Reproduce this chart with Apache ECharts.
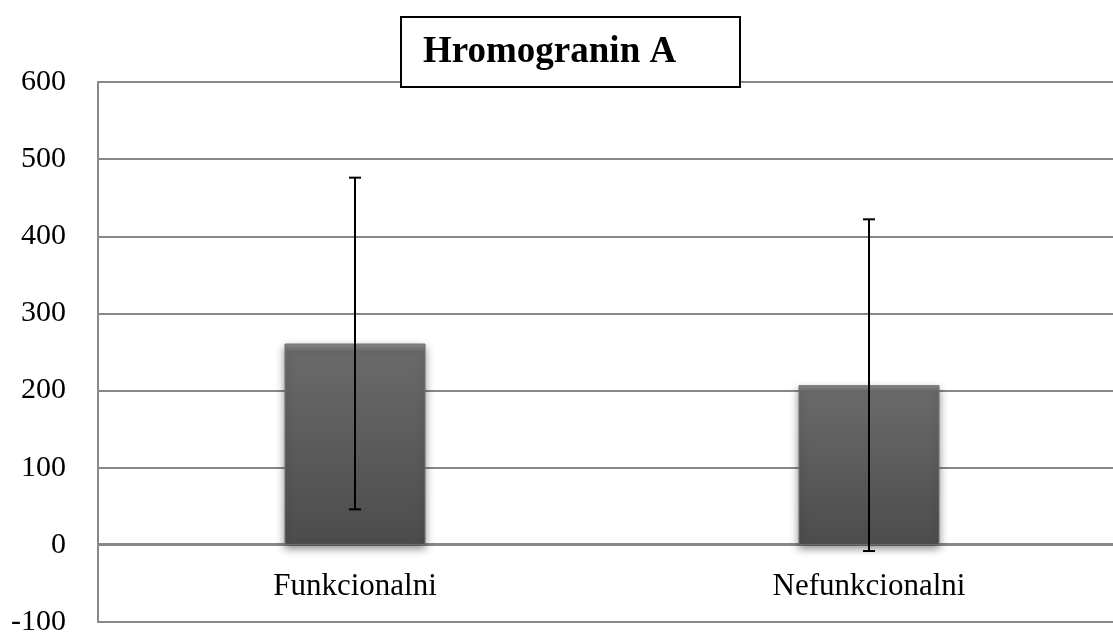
<!DOCTYPE html>
<html>
<head>
<meta charset="utf-8">
<script src="https://cdn.jsdelivr.net/npm/echarts@6/dist/echarts.min.js"></script>
<style>
  html, body { margin: 0; padding: 0; background: #fff; }
  #chart { width: 1113px; height: 635px; }
</style>
</head>
<body>
<div id="chart"></div>
<script>
// podaci
const categories = ['Funkcionalni', 'Nefunkcionalni'];
const means = [261, 207];
const sd = [215, 215];
const titleText = 'Hromogranin A';

const font = '"Liberation Serif", "Times New Roman", serif';

// granice za error bar
const errData = means.map((m, i) => [i, m - sd[i], m + sd[i]]);

const chart = echarts.init(document.getElementById('chart'));

const option = {
  backgroundColor: '#fff',
  animation: false,
  title: {
    text: titleText,
    left: 401,
    top: 17,
    padding: [15, 64, 15, 22],
    borderColor: '#000',
    borderWidth: 2,
    backgroundColor: '#fff',
    textStyle: {
      fontFamily: font,
      fontWeight: 'bold',
      fontSize: 37,
      color: '#000',
      lineHeight: 40
    }
  },
  grid: {
    left: 98,
    top: 82,
    width: 1028,
    height: 540,
    containLabel: false,
    outerBoundsMode: 'none'
  },
  xAxis: {
    type: 'category',
    data: categories,
    // os kategorija stoji na nuli (78 px iznad dna)
    offset: -78,
    axisLine: { onZero: false, lineStyle: { color: '#888', width: 2 } },
    axisTick: { show: false },
    axisLabel: {
      fontFamily: font,
      fontSize: 31,
      color: '#000',
      margin: 27
    }
  },
  yAxis: {
    type: 'value',
    min: -100,
    max: 600,
    interval: 100,
    axisLine: { show: true, lineStyle: { color: '#888', width: 2 } },
    axisTick: { show: false },
    axisLabel: {
      fontFamily: font,
      fontSize: 30,
      color: '#000',
      margin: 32
    },
    splitLine: { lineStyle: { color: '#888', width: 2 } }
  },
  series: [
    {
      type: 'bar',
      data: means,
      barWidth: 141,
      itemStyle: {
        color: new echarts.graphic.LinearGradient(0, 0, 0, 1, [
          { offset: 0, color: '#8e8e8e' },
          { offset: 0.04, color: '#6a6a6a' },
          { offset: 1, color: '#4c4c4c' }
        ]),
        borderColor: '#707070',
        borderWidth: 1,
        shadowColor: 'rgba(0,0,0,0.45)',
        shadowBlur: 8,
        shadowOffsetY: 4
      },
      z: 2
    },
    {
      type: 'custom',
      data: errData,
      z: 5,
      renderItem: function (params, api) {
        const x = api.value(0);
        const lo = api.coord([x, api.value(1)]);
        const hi = api.coord([x, api.value(2)]);
        const half = 6;
        const style = { stroke: '#000', lineWidth: 2 };
        return {
          type: 'group',
          children: [
            { type: 'line', shape: { x1: hi[0], y1: hi[1], x2: lo[0], y2: lo[1] }, style: style },
            { type: 'line', shape: { x1: hi[0] - half, y1: hi[1], x2: hi[0] + half, y2: hi[1] }, style: style },
            { type: 'line', shape: { x1: lo[0] - half, y1: lo[1], x2: lo[0] + half, y2: lo[1] }, style: style }
          ]
        };
      }
    }
  ]
};

chart.setOption(option);
</script>
</body>
</html>
